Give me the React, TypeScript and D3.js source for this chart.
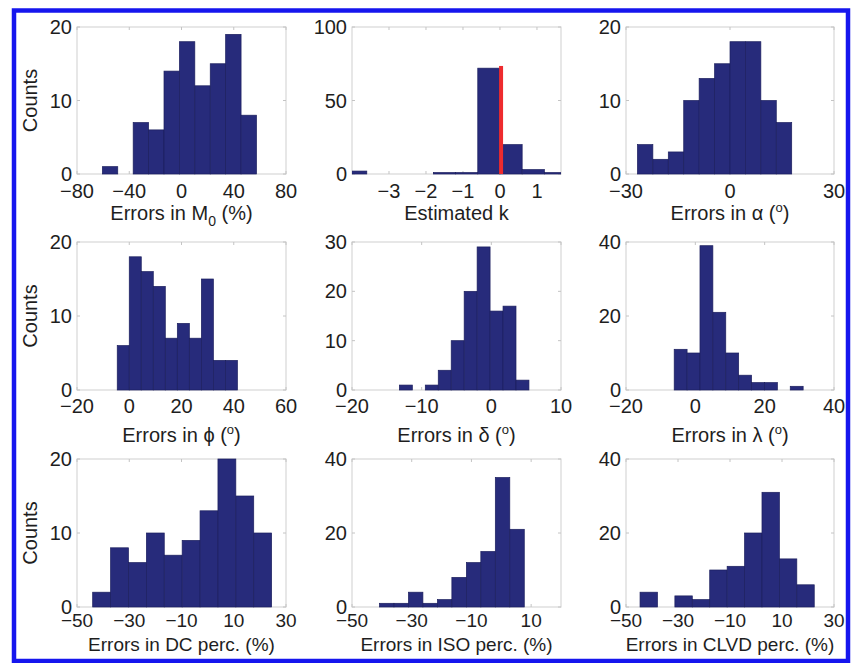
import React from 'react';
import * as d3 from 'd3';

// histogram bin edges + counts
const m0Edges = [-60.6, -48.8, -37, -25.2, -13.4, -1.6, 10.2, 22, 33.8, 45.6, 57.4];
const m0Counts = [1, 0, 7, 6, 14, 18, 12, 15, 19, 8];

const kEdges = [-4.2, -3.6, -3.0, -2.4, -1.8, -1.2, -0.6, 0, 0.6, 1.2, 1.8];
const kCounts = [2, 0, 0, 0, 1, 1, 72, 20, 3, 1];
const kTrue = 0.03;
const kTrueHeight = 73.5;

const alphaEdges = [-26.7, -22.25, -17.8, -13.35, -8.9, -4.45, 0, 4.45, 8.9, 13.35, 17.8];
const alphaCounts = [4, 2, 3, 10, 13, 15, 18, 18, 10, 7];

const phiEdges = [-4.6, 0, 4.6, 9.2, 13.8, 18.4, 23, 27.6, 32.2, 36.8, 41.4];
const phiCounts = [6, 18, 16, 14, 7, 9, 7, 15, 4, 4];

const deltaEdges = [-13.2, -11.34, -9.48, -7.62, -5.76, -3.9, -2.04, -0.18, 1.68, 3.54, 5.4];
const deltaCounts = [1, 0, 1, 4, 10, 20, 29, 16, 17, 2];

const lambdaEdges = [-6.1, -2.38, 1.34, 5.06, 8.78, 12.5, 16.22, 19.94, 23.66, 27.38, 31.1];
const lambdaCounts = [11, 10, 39, 21, 10, 4, 2, 2, 0, 1];

const dcEdges = [-44, -37.15, -30.3, -23.45, -16.6, -9.75, -2.9, 3.95, 10.8, 17.65, 24.5];
const dcCounts = [2, 8, 6, 10, 7, 9, 13, 20, 15, 10];

const isoEdges = [-40.8, -35.95, -31.1, -26.25, -21.4, -16.55, -11.7, -6.85, -2, 2.85, 7.7];
const isoCounts = [1, 1, 4, 1, 2, 8, 12, 15, 35, 21];

const clvdEdges = [-44.6, -37.9, -31.2, -24.5, -17.8, -11.1, -4.4, 2.3, 9, 15.7, 22.4];
const clvdCounts = [4, 0, 3, 2, 10, 11, 20, 31, 13, 6];

// axis limits and ticks
const m0XTicks = [-80, -40, 0, 40, 80];
const kXTicks = [-3, -2, -1, 0, 1];
const alphaXTicks = [-30, 0, 30];
const phiXTicks = [-20, 0, 20, 40, 60];
const deltaXTicks = [-20, -10, 0, 10];
const lambdaXTicks = [-20, 0, 20, 40];
const percXTicks = [-50, -30, -10, 10, 30];
const isoXTicks = [-50, -30, -10, 10];

const FONT = '"Liberation Sans", Arial, Helvetica, sans-serif';
const BAR = '#272b7b';
const BAR_EDGE = '#1c1f5e';
const TXT = '#1e1e1e';

const colX = [[77, 286], [352, 561], [626, 834]];
const rowY = [[27, 174], [242, 390], [459, 607]];
const tickOff = [24, 23, 20];
const titleY = [220, 442, 651];

const deg = (name: string) => (
  <>
    {`Errors in ${name} (`}
    <tspan fontSize={13} dy={-8}>o</tspan>
    <tspan dy={8}>)</tspan>
  </>
);

type Spec = {
  id: string;
  edges: number[];
  counts: number[];
  xDomain: [number, number];
  xTicks: number[];
  yMax: number;
  yTicks: number[];
  title: React.ReactNode;
  col: number;
  row: number;
  marker?: [number, number];
};

const panels: Spec[] = [
  {
    id: 'm0', edges: m0Edges, counts: m0Counts, xDomain: [-80, 80], xTicks: m0XTicks,
    yMax: 20, yTicks: [0, 10, 20], col: 0, row: 0,
    title: (<>Errors in M<tspan fontSize={14} dy={6}>0</tspan><tspan dy={-6}> (%)</tspan></>),
  },
  {
    id: 'k', edges: kEdges, counts: kCounts, xDomain: [-4, 1.65], xTicks: kXTicks,
    yMax: 100, yTicks: [0, 50, 100], col: 1, row: 0, title: 'Estimated k',
    marker: [kTrue, kTrueHeight],
  },
  {
    id: 'alpha', edges: alphaEdges, counts: alphaCounts, xDomain: [-30, 30], xTicks: alphaXTicks,
    yMax: 20, yTicks: [0, 10, 20], col: 2, row: 0, title: deg('α'),
  },
  {
    id: 'phi', edges: phiEdges, counts: phiCounts, xDomain: [-20, 60], xTicks: phiXTicks,
    yMax: 20, yTicks: [0, 10, 20], col: 0, row: 1, title: deg('ϕ'),
  },
  {
    id: 'delta', edges: deltaEdges, counts: deltaCounts, xDomain: [-20, 10], xTicks: deltaXTicks,
    yMax: 30, yTicks: [0, 10, 20, 30], col: 1, row: 1, title: deg('δ'),
  },
  {
    id: 'lambda', edges: lambdaEdges, counts: lambdaCounts, xDomain: [-20, 40], xTicks: lambdaXTicks,
    yMax: 40, yTicks: [0, 20, 40], col: 2, row: 1, title: deg('λ'),
  },
  {
    id: 'dc', edges: dcEdges, counts: dcCounts, xDomain: [-50, 30], xTicks: percXTicks,
    yMax: 20, yTicks: [0, 10, 20], col: 0, row: 2, title: 'Errors in DC perc. (%)',
  },
  {
    id: 'iso', edges: isoEdges, counts: isoCounts, xDomain: [-50, 20], xTicks: isoXTicks,
    yMax: 40, yTicks: [0, 20, 40], col: 1, row: 2, title: 'Errors in ISO perc. (%)',
  },
  {
    id: 'clvd', edges: clvdEdges, counts: clvdCounts, xDomain: [-50, 30], xTicks: percXTicks,
    yMax: 40, yTicks: [0, 20, 40], col: 2, row: 2, title: 'Errors in CLVD perc. (%)',
  },
];

const fmt = d3.format('d');

const Panel = ({ p }: { p: Spec }) => {
  const [x0, x1] = colX[p.col];
  const [y0, y1] = rowY[p.row];
  const x = d3.scaleLinear().domain(p.xDomain).range([x0, x1]);
  const y = d3.scaleLinear().domain([0, p.yMax]).range([y1, y0]);
  const bins = p.counts.map((c, i) => ({ c, a: p.edges[i], b: p.edges[i + 1] }));
  const clip = `clip-${p.id}`;
  const tl = 3;
  const fs = p.row === 2 ? 19 : 20;
  return (
    <g>
      <clipPath id={clip}>
        <rect x={x0} y={y0 - 2} width={x1 - x0} height={y1 - y0 + 4} />
      </clipPath>
      <rect x={x0} y={y0} width={x1 - x0} height={y1 - y0} fill="#fff" stroke="#cfcfcf" strokeWidth={1} />
      {p.xTicks.map(t => (
        <g key={'xt' + t}>
          <line x1={x(t)} x2={x(t)} y1={y1} y2={y1 - tl} stroke="#c4c4c4" />
          <line x1={x(t)} x2={x(t)} y1={y0} y2={y0 + tl} stroke="#c4c4c4" />
        </g>
      ))}
      {p.yTicks.map(t => (
        <g key={'yt' + t}>
          <line x1={x0} x2={x0 + tl} y1={y(t)} y2={y(t)} stroke="#c4c4c4" />
          <line x1={x1} x2={x1 - tl} y1={y(t)} y2={y(t)} stroke="#c4c4c4" />
        </g>
      ))}
      <g clipPath={`url(#${clip})`}>
        {bins.filter(d => d.c > 0).map((d, i) => (
          <rect key={i} x={x(d.a)} y={y(d.c)} width={x(d.b) - x(d.a)} height={y(0) - y(d.c)}
            fill={BAR} stroke={BAR_EDGE} strokeWidth={0.7} />
        ))}
        {p.marker && (
          <line x1={x(p.marker[0])} x2={x(p.marker[0])} y1={y(0)} y2={y(p.marker[1])}
            stroke="#ee2b2e" strokeWidth={4} />
        )}
      </g>
      {p.xTicks.map(t => (
        <text key={'xl' + t} x={x(t)} y={y1 + tickOff[p.row]} textAnchor="middle"
          fontSize={fs} fill={TXT}>{fmt(t)}</text>
      ))}
      {p.yTicks.map(t => (
        <text key={'yl' + t} x={x0 - 5} y={y(t)} dy="0.35em" textAnchor="end"
          fontSize={20} fill={TXT}>{fmt(t)}</text>
      ))}
      <text x={(x0 + x1) / 2} y={titleY[p.row]} textAnchor="middle" fontSize={fs} fill={TXT}>
        {p.title}
      </text>
      {p.col === 0 && (
        <text transform={`translate(37,${(y0 + y1) / 2}) rotate(-90)`} textAnchor="middle"
          fontSize={20} fill={TXT}>Counts</text>
      )}
    </g>
  );
};

export default function App() {
  return (
    <svg width={859} height={663} style={{ position: 'absolute', left: 0, top: 0 }}
      fontFamily={FONT}>
      <rect width={859} height={663} fill="#fff" />
      <rect x={14} y={10.5} width={834} height={650.5} fill="none" stroke="#1616ee" strokeWidth={4.5} />
      {panels.map(p => <Panel key={p.id} p={p} />)}
    </svg>
  );
}
